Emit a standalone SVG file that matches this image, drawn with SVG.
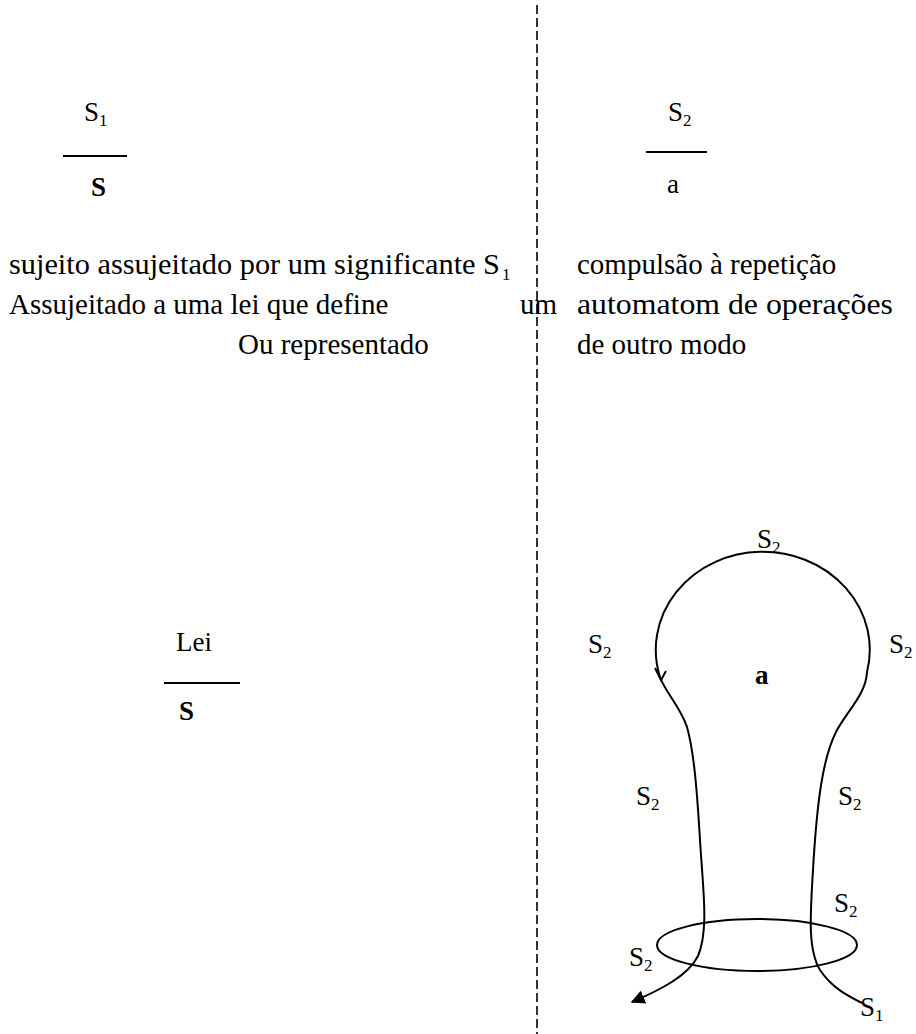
<svg xmlns="http://www.w3.org/2000/svg" width="916" height="1034" viewBox="0 0 916 1034">
<style>
text{font-family:'Liberation Serif','DejaVu Serif',serif;fill:#000}
.t{font-size:29px}
.s{font-size:27px}
.sub{font-size:17px}
.b{font-weight:bold}
.ln{stroke:#000;stroke-width:2;fill:none}
.cv{stroke:#000;stroke-width:2;fill:none}
</style>
<defs>
<marker id="ah" viewBox="0 0 10 10" refX="9" refY="5" markerWidth="7" markerHeight="7" markerUnits="strokeWidth" orient="auto">
<path d="M0,0 L10,5 L0,10 z" fill="#000"/>
</marker>
</defs>
<g id="divider">
<line x1="537" y1="5" x2="537" y2="1034" stroke="#000" stroke-width="1.6" stroke-dasharray="9,4"/>
</g>
<g id="frac-s1">
<text class="s" x="84" y="121">S<tspan class="sub" dy="5">1</tspan></text>
<line class="ln" x1="63" y1="156" x2="127" y2="156"/>
<text class="s b" x="91" y="196">S</text>
</g>
<g id="frac-s2">
<text class="s" x="668" y="121">S<tspan class="sub" dy="5">2</tspan></text>
<line class="ln" x1="646" y1="152" x2="707" y2="152"/>
<text class="s" x="667" y="193">a</text>
</g>
<g id="left-text">
<text class="t" x="9" y="274" textLength="491" lengthAdjust="spacingAndGlyphs">sujeito assujeitado por um significante S</text>
<text class="sub" x="502" y="280">1</text>
<text class="t" x="9" y="314">Assujeitado a uma lei que define</text>
<text class="t" x="520" y="314">um</text>
<text class="t" x="238" y="354">Ou representado</text>
</g>
<g id="right-text">
<text class="t" x="577" y="274">compulsão à repetição</text>
<text class="t" x="577" y="314" textLength="316" lengthAdjust="spacingAndGlyphs">automatom de operações</text>
<text class="t" x="577" y="354">de outro modo</text>
</g>
<g id="frac-lei">
<text class="s" x="176" y="651">Lei</text>
<line class="ln" x1="164" y1="683" x2="240" y2="683"/>
<text class="s b" x="179" y="720">S</text>
</g>
<g id="connectors">
<path class="cv" d="M 660 677 A 107 98 0 1 1 867 672"/>
<path class="cv" d="M 655 668 L 661 680 L 666 671"/>
<path class="cv" d="M 867 672 C 866 695, 846 712, 836 732 C 823 758, 817 800, 813 870 C 810 918, 808 950, 820 970 C 832 988, 848 996, 862 1003"/>
<path class="cv" marker-end="url(#ah)" d="M 660 677 C 665 692, 680 706, 687 727 C 694 752, 697 790, 700 840 C 703 890, 709 930, 698 956 C 688 976, 660 990, 632 1002"/>
<ellipse class="cv" cx="757" cy="945" rx="100" ry="26"/>
</g>
<g id="bulb-labels">
<text class="s" x="757" y="548">S<tspan class="sub" dy="5">2</tspan></text>
<text class="s" x="588" y="653">S<tspan class="sub" dy="5">2</tspan></text>
<text class="s" x="889" y="653">S<tspan class="sub" dy="5">2</tspan></text>
<text class="s b" x="755" y="684">a</text>
<text class="s" x="636" y="805">S<tspan class="sub" dy="5">2</tspan></text>
<text class="s" x="838" y="805">S<tspan class="sub" dy="5">2</tspan></text>
<text class="s" x="834" y="912">S<tspan class="sub" dy="5">2</tspan></text>
<text class="s" x="629" y="966">S<tspan class="sub" dy="5">2</tspan></text>
<text class="s" x="860" y="1016">S<tspan class="sub" dy="5">1</tspan></text>
</g>
</svg>
